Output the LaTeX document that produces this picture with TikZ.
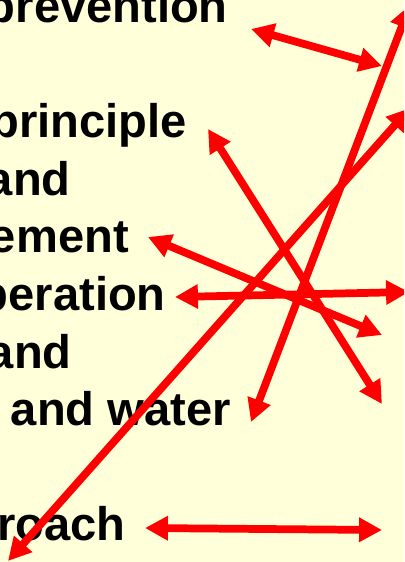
\documentclass[tikz,border=0pt]{standalone}
\usepackage{fontspec}
\setmainfont{Liberation Sans}
\usepackage{tikz}
\usetikzlibrary{arrows.meta}
\definecolor{slidebg}{RGB}{255,255,218}
\definecolor{arrowred}{RGB}{255,0,0}

\begin{document}
\begin{tikzpicture}[x=0.025cm, y=-0.025cm,
    font=\fontsize{33.5}{40}\selectfont\bfseries,
    twohead/.style={draw=arrowred, line width=5.5pt,
        {Triangle[length=16.3pt,width=16.5pt]}-{Triangle[length=16.3pt,width=16.5pt]}},
    word/.style={anchor=base east, inner sep=0pt}]
    % slide background, words run off the left edge
    \fill[slidebg] (0,0) rectangle (404,562);
    \useasboundingbox (0,0) rectangle (404,562);
    \clip (0,0) rectangle (404,562);
    % text lines
    \node[word] (prev)  at (228,22)  {prevention};
    \node[word] (princ) at (187,137) {principle};
    \node[word] (andA)  at (71,195)  {and};
    \node[word] (ement) at (129,252) {ement};
    \node[word] (oper)  at (166,310) {peration};
    \node[word] (andB)  at (72,368)  {and};
    \node[word] (water) at (231,425) {and water};
    \node[word] (appr)  at (126,540) {roach};
    % arrow ends
    \coordinate (a1) at (251,29);  \coordinate (a2) at (382,66);
    \coordinate (b1) at (410,5);   \coordinate (b2) at (251,422);
    \coordinate (c1) at (410,108); \coordinate (c2) at (8,561);
    \coordinate (d1) at (208,129); \coordinate (d2) at (382,404);
    \coordinate (e1) at (148,237); \coordinate (e2) at (382,335);
    \coordinate (f1) at (175,297); \coordinate (f2) at (409,292);
    \coordinate (g1) at (145,528); \coordinate (g2) at (382,530);
    % arrows on top of the text
    \foreach \p/\q in {a1/a2, b1/b2, c1/c2, d1/d2, e1/e2, f1/f2, g1/g2}
        \draw[twohead] (\p) -- (\q);
\end{tikzpicture}
\end{document}
